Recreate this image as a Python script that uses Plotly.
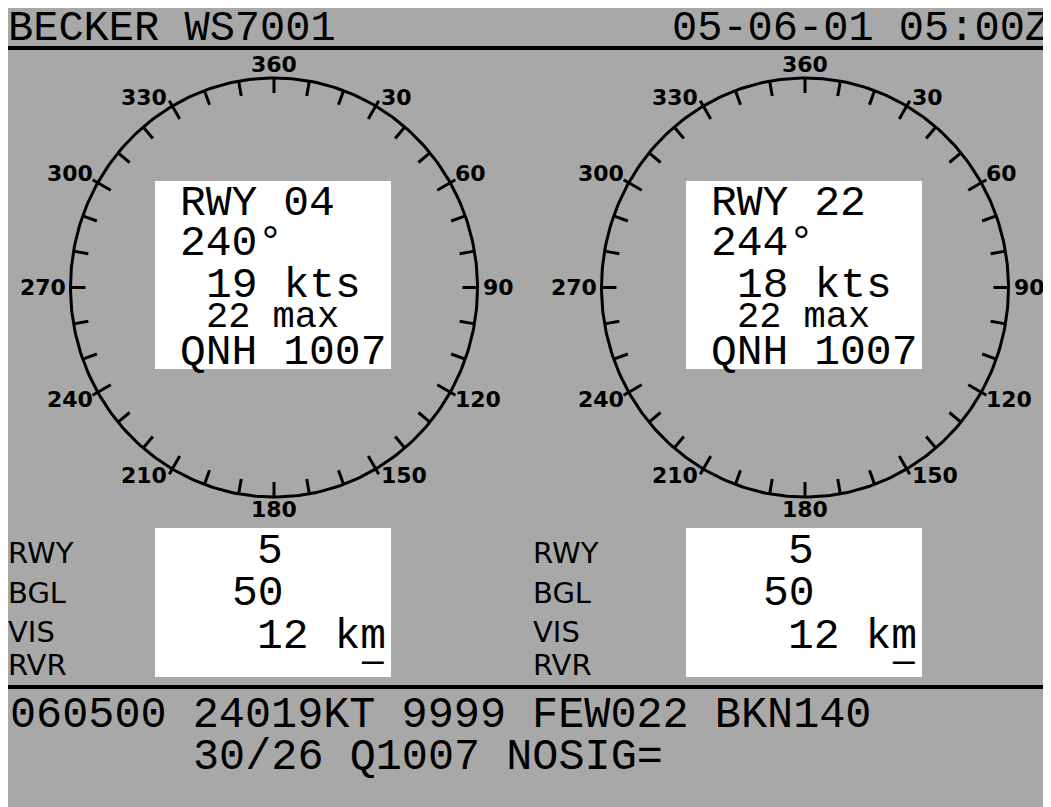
import numpy as np
import plotly.graph_objects as go

# ---------------- data ----------------
header_left = "BECKER WS7001"
header_right = "05-06-01 05:00Z"

runways = ["04", "22"]
wind_dir_deg = [240, 244]
wind_speed_kts = [19, 18]
gust_max_kts = [22, 22]
qnh_hpa = [1007, 1007]

rwy_state = [5, 5]
bgl_values = [50, 50]
vis_km = [12, 12]
rvr_values = ["\u2014", "\u2014"]
row_labels = ["RWY", "BGL", "VIS", "RVR"]

compass_tick_deg = list(range(0, 360, 10))
compass_label_deg = [0, 30, 60, 90, 120, 150, 180, 210, 240, 270, 300, 330]
compass_label_text = ["360", "30", "60", "90", "120", "150", "180",
                      "210", "240", "270", "300", "330"]

metar_line1 = "060500 24019KT 9999 FEW022 BKN140"
metar_line2 = "30/26 Q1007 NOSIG="

# ---------------- layout constants ----------------
W, H = 1051, 807
OFF = 8  # page offset of the figure (body margin)
BG = "#A8A8A8"
MONO = "Liberation Mono, DejaVu Sans Mono, monospace"
SANS = "DejaVu Sans, Verdana, sans-serif"
PITCH = 25.8
panel_dx = [0, 531]
label_dx = [0, 525]
CX, CY, RX, RY = 274, 287.5, 203.5, 209.5

fig = go.Figure()
shapes = []
ann = []


def text(x, y, s, size, family=MONO, xanchor="left", weight="normal"):
    ann.append(dict(x=x, y=y, xref="x", yref="y", text=s, showarrow=False,
                    xanchor=xanchor, yanchor="middle", borderpad=0, borderwidth=0,
                    font=dict(family=family, size=size, color="black", weight=weight)))


# background
shapes.append(dict(type="rect", xref="x", yref="y", x0=-50, x1=W + 50, y0=-50, y1=H + 50,
                   fillcolor=BG, line=dict(width=0), layer="below"))

# header
text(8, 29, header_left, 42)
text(1050, 29, header_right, 42, xanchor="right")
shapes.append(dict(type="line", xref="x", yref="y", x0=0, x1=W + 20, y0=48, y1=48,
                   line=dict(color="black", width=4)))
# bottom separator
shapes.append(dict(type="line", xref="x", yref="y", x0=0, x1=W + 20, y0=687, y1=687,
                   line=dict(color="black", width=4)))

for i in range(2):
    dx = panel_dx[i]
    cx = CX + dx
    # compass circle
    th = np.radians(np.arange(0, 361, 1))
    fig.add_trace(go.Scatter(x=cx + RX * np.sin(th), y=CY - RY * np.cos(th), mode="lines",
                             line=dict(color="black", width=3), hoverinfo="skip", showlegend=False))
    # ticks
    tx, ty = [], []
    for a in compass_tick_deg:
        r = np.radians(a)
        s, c = np.sin(r), np.cos(r)
        outer = 6 if (a % 30 == 0 and a % 90 != 0) else 0
        inner = -15
        tx += [cx + (RX + outer) * s, cx + (RX + inner) * s, None]
        ty += [CY - (RY + outer) * c, CY - (RY + inner) * c, None]
    fig.add_trace(go.Scatter(x=tx, y=ty, mode="lines", line=dict(color="black", width=3),
                             hoverinfo="skip", showlegend=False))
    # compass labels
    for a, lab in zip(compass_label_deg, compass_label_text):
        r = np.radians(a)
        s, c = np.sin(r), np.cos(r)
        px, py = cx + RX * s, CY - RY * c
        if a in (0, 180):
            text(px, py - 14 if a == 0 else py + 12, lab, 22, SANS, "center", "bold")
        elif a in (90, 270):
            text(px + (5 if s > 0 else -5), CY, lab, 22, SANS, "left" if s > 0 else "right", "bold")
        else:
            text(px + (5 if s > 0 else -5), py - 9 if c > 0 else py + 7, lab, 22, SANS,
                 "left" if s > 0 else "right", "bold")

    # upper white box
    shapes.append(dict(type="rect", xref="x", yref="y", x0=155 + dx, x1=391 + dx, y0=181, y1=369,
                       fillcolor="white", line=dict(width=0)))
    x0 = 180 + dx
    text(x0, 203, f"RWY {runways[i]}", 43)
    text(x0, 243, f"{wind_dir_deg[i]}\u00b0", 43)
    text(x0 + PITCH, 285, f"{wind_speed_kts[i]} kts", 43)
    text(x0 + PITCH, 317, f"{gust_max_kts[i]} max", 37)
    text(x0, 352, f"QNH {qnh_hpa[i]}", 43)

    # lower white box
    shapes.append(dict(type="rect", xref="x", yref="y", x0=155 + dx, x1=391 + dx, y0=528, y1=677,
                       fillcolor="white", line=dict(width=0)))
    text(x0 + 3 * PITCH, 551, f"{rwy_state[i]}", 43)
    text(x0 + 2 * PITCH, 593, f"{bgl_values[i]}", 43)
    text(x0 + 3 * PITCH, 636, f"{vis_km[i]} km", 43)
    text(x0 + 7 * PITCH, 662, rvr_values[i], 36)

    ly = [553, 593, 632, 665]
    for lab, yy in zip(row_labels, ly):
        text(8 + label_dx[i], yy, lab, 29, SANS)

# METAR
text(10, 715, metar_line1, 43.5)
text(10 + 7 * 26.1, 757, metar_line2, 43.5)

fig.update_layout(
    width=W, height=H, margin=dict(l=0, r=0, t=0, b=0),
    paper_bgcolor=BG, plot_bgcolor=BG,
    xaxis=dict(range=[OFF, OFF + W], visible=False, fixedrange=True),
    yaxis=dict(range=[OFF + H, OFF], visible=False, fixedrange=True),
    shapes=shapes, annotations=ann, showlegend=False,
)
fig.write_html("out.html")
